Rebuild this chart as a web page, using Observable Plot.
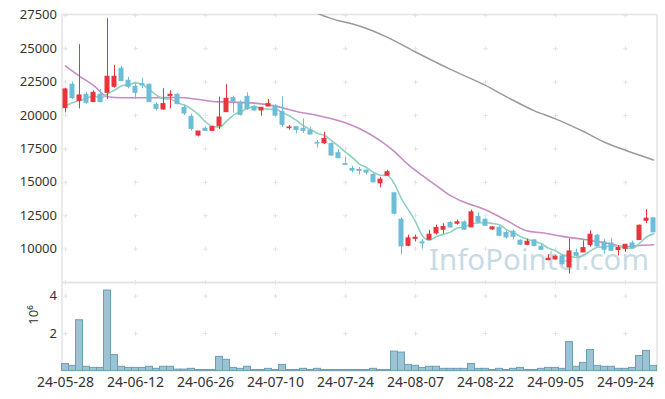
<!DOCTYPE html>
<html><head><meta charset="utf-8">
<script src="https://cdn.jsdelivr.net/npm/d3@7"></script>
<script src="https://cdn.jsdelivr.net/npm/@observablehq/plot@0.6"></script>
<style>
body{margin:0;background:#fff;}
#chart{width:665px;height:399px;position:relative;font-family:"Noto Sans",sans-serif;}
#chart svg{display:block;}
#chart g[aria-label="x-axis tick label"] text{font-size:14px;}
</style></head><body><div id="chart"></div>
<script>
const dates = ["2024-05-28","2024-05-29","2024-05-30","2024-05-31","2024-06-03","2024-06-04","2024-06-05","2024-06-07","2024-06-10","2024-06-11",
"2024-06-12","2024-06-13","2024-06-14","2024-06-17","2024-06-18","2024-06-19","2024-06-20","2024-06-21","2024-06-24","2024-06-25",
"2024-06-26","2024-06-27","2024-06-28","2024-07-01","2024-07-02","2024-07-03","2024-07-04","2024-07-05","2024-07-08","2024-07-09",
"2024-07-10","2024-07-11","2024-07-12","2024-07-15","2024-07-16","2024-07-17","2024-07-18","2024-07-19","2024-07-22","2024-07-23",
"2024-07-24","2024-07-25","2024-07-26","2024-07-29","2024-07-30","2024-07-31","2024-08-01","2024-08-02","2024-08-05","2024-08-06",
"2024-08-07","2024-08-08","2024-08-09","2024-08-12","2024-08-13","2024-08-14","2024-08-16","2024-08-19","2024-08-20","2024-08-21",
"2024-08-22","2024-08-23","2024-08-26","2024-08-27","2024-08-28","2024-08-29","2024-08-30","2024-09-02","2024-09-03","2024-09-04",
"2024-09-05","2024-09-06","2024-09-09","2024-09-10","2024-09-11","2024-09-12","2024-09-13","2024-09-19","2024-09-20","2024-09-23",
"2024-09-24","2024-09-25","2024-09-26","2024-09-27","2024-09-30"];
const open = [20550,22300,21100,21550,21000,21550,21700,22150,23500,22600,
22150,22350,22300,20800,20450,21450,21550,20550,19900,18500,
19000,18850,19200,20250,21300,20875,21400,20650,20375,20675,
20725,20250,19050,19125,19000,18875,17950,17925,17875,17175,
16350,16000,15925,15875,15550,14925,15500,14175,12200,10250,
10775,10500,10700,11175,11450,11950,11900,12000,11625,12400,
12200,11475,11600,11200,11300,10625,10325,10650,10175,9175,
9225,9450,8625,9700,9750,10300,11000,10500,10425,9925,
10025,10425,10675,12125,12300];
const high = [22050,22500,25300,21750,21850,21950,27250,23750,23675,22850,
22350,22800,22350,20950,22000,21850,21650,20750,20100,18800,
19150,19200,21375,22300,21450,21100,21700,20750,20600,21200,
20800,21400,19250,19150,19750,19125,18125,18750,17950,17450,
16900,16200,16125,15900,15650,15375,15900,14200,12350,11050,
11050,10700,11400,11800,11900,12050,12175,12100,12925,12700,
12250,11675,11700,11325,11425,10700,10750,10725,10375,9575,
9500,9600,10750,10000,10625,11375,11100,10700,10800,10250,
10350,10600,11800,12950,12300];
const low = [20200,21200,20500,20850,21000,20950,21200,22050,22550,22000,
21200,22000,21000,20350,20400,20500,20800,20000,18850,18400,
18850,18800,18950,20250,20175,19950,20375,20325,19950,20650,
19900,19100,18900,18625,18650,18575,17575,17825,17000,16800,
16250,15700,15550,15550,14950,14575,15450,12550,9575,10175,
10525,10000,10700,11050,11125,11575,11800,11400,11625,11925,
11700,11400,10925,10750,10675,10275,10250,10175,9925,9125,
9175,8750,8125,9425,9750,10150,10175,9625,9850,9500,
9750,10050,10675,11900,11250];
const close = [21950,21300,21500,20950,21700,21000,22900,22900,22575,22150,
21700,22250,21000,20500,20850,21550,20850,20150,19000,18800,
18850,19125,19850,21250,21050,20050,20500,20375,20575,20850,
20000,19300,19100,18925,18850,18575,17900,18250,17000,16800,
16300,15875,15850,15725,15000,15200,15750,12650,10200,10800,
10850,10425,11075,11575,11650,11625,12000,11450,12750,12000,
11750,11625,11000,10875,10925,10325,10550,10225,9950,9275,
9425,8875,9825,9500,10075,11075,10200,9950,9875,10075,
10325,10100,11750,12275,11250];
const volume = [370000,270000,2710000,220000,160000,160000,4300000,850000,220000,160000,
160000,160000,220000,110000,220000,220000,70000,70000,110000,50000,
50000,50000,750000,590000,160000,110000,220000,50000,50000,110000,
50000,320000,50000,50000,110000,50000,110000,50000,50000,50000,
50000,50000,50000,50000,110000,50000,50000,1030000,980000,320000,
270000,160000,220000,220000,110000,110000,110000,110000,370000,110000,
110000,50000,110000,50000,110000,160000,50000,50000,110000,160000,
160000,110000,1540000,220000,430000,1120000,270000,220000,220000,110000,
110000,160000,800000,1070000,270000];
// 5-day average: first four points (they need earlier sessions)
const ma5Head = [20725,20950,21125,21275];
// 20-day average, read at these sessions
const ma20Idx = [0,2,4,6,8,12,16,19,21,24,27,30,33,36,38,41,43,45,47,49,51,53,55,57,60,63,66,68,71,75,78,80,82,84];
const ma20 = [23700,22950,22250,21400,21325,21325,21350,21200,21050,21000,20925,20700,20300,20000,19750,19250,18750,18100,17300,16300,15500,14750,14000,13500,12950,12150,11350,11225,10950,10650,10375,10175,10275,10325];
// long average, read at these sessions (clipped above the frame)
const ma120Idx = [35,38,42,46,50,55,60,63,67,70,74,77,80,84];
const ma120 = [27850,27250,26700,25850,24750,23450,22250,21400,20350,19750,18800,18000,17400,16675];
const priceTicks = [10000,12500,15000,17500,20000,22500,25000,27500];
const priceGridTicks = [7500,10000,12500,15000,17500,20000,22500,25000,27500];
const volumeTicks = [2000000,4000000];
const dateTicks = ["2024-05-28","2024-06-12","2024-06-26","2024-07-10","2024-07-24","2024-08-07","2024-08-22","2024-09-05","2024-09-24"];

const RED = "#e8343a", BLUE = "#6cbdd7";
const bars = dates.map((d,i)=>({date:d, open:open[i], high:high[i], low:low[i], close:close[i], volume:volume[i],
  color: close[i] >= open[i] ? RED : BLUE}));
const ma5Pts = dates.map((d,i)=>({date:d, v: i < 4 ? ma5Head[i] : d3.mean(close.slice(i-4,i+1))}));
const ma20Pts = ma20Idx.map((k,j)=>({date:dates[k], v:ma20[j]}));
const ma120Pts = ma120Idx.map((k,j)=>({date:dates[k], v:ma120[j]}));
const priceGrid = d3.cross(dateTicks, priceGridTicks).map(([d,v])=>({date:d, v}));
const volGrid = d3.cross(dateTicks, volumeTicks).map(([d,v])=>({date:d, v}));

const common = {
  width:665, marginLeft:61.5, marginRight:8.5,
  style:{fontFamily:'"Noto Sans", sans-serif', fontSize:"13px", color:"#333", background:"transparent", overflow:"visible"},
  color:{type:"identity"}
};
const price = Plot.plot({
  ...common,
  height:282, marginTop:14, marginBottom:0,
  x:{type:"band", domain:dates, padding:0, round:false, axis:null},
  y:{domain:[7500,27560], ticks:priceTicks, tickSize:0, tickPadding:5, tickFormat:d=>String(d), label:null},
  marks:[
    Plot.text(["InfoPointer.com"], {frameAnchor:"bottom-right", textAnchor:"end", lineAnchor:"bottom", dx:-8, dy:-13, fontSize:29.5, fill:"#c7dbe5"}),
    Plot.dot(priceGrid, {x:"date", y:"v", symbol:"plus", r:1.6, stroke:"#e4e4e4", strokeWidth:1}),
    Plot.frame({stroke:"#e3e3e3", strokeWidth:1.5}),
    Plot.line(ma120Pts, {x:"date", y:"v", stroke:"#9a9a9a", strokeWidth:1.5, curve:"monotone-x", clip:true}),
    Plot.line(ma20Pts, {x:"date", y:"v", stroke:"#c98bc4", strokeWidth:1.6, curve:"monotone-x"}),
    Plot.line(ma5Pts, {x:"date", y:"v", stroke:"#8fd0c1", strokeWidth:1.6, curve:"monotone-x"}),
    Plot.ruleX(bars, {x:"date", y1:"low", y2:"high", stroke:"color", strokeWidth:1}),
    Plot.barY(bars, {x:"date", y1:"open", y2:"close", fill:"color", stroke:"color", strokeWidth:1, insetLeft:1.5, insetRight:1.5})
  ]
});
const vol = Plot.plot({
  ...common,
  height:117, marginTop:0, marginBottom:28.6,
  x:{type:"band", domain:dates, padding:0, round:false, ticks:dateTicks, tickSize:0, tickPadding:6, tickFormat:d=>d.slice(2), label:null},
  y:{domain:[0,4730000], ticks:volumeTicks, tickSize:0, tickPadding:5, tickFormat:d=>String(d/1e6), label:null},
  marks:[
    Plot.dot(volGrid, {x:"date", y:"v", symbol:"plus", r:1.6, stroke:"#e4e4e4", strokeWidth:1}),
    Plot.frame({stroke:"#e3e3e3", strokeWidth:1.5}),
    Plot.barY(bars, {x:"date", y:"volume", fill:"#9cc3d3", stroke:"#6a9fb6", strokeWidth:1}),
    Plot.text(["10⁶"], {frameAnchor:"left", rotate:-90, dx:-28, dy:-2, fontSize:13, fill:"#333"})
  ]
});
const el = document.getElementById("chart");
el.append(price, vol);
</script></body></html>
